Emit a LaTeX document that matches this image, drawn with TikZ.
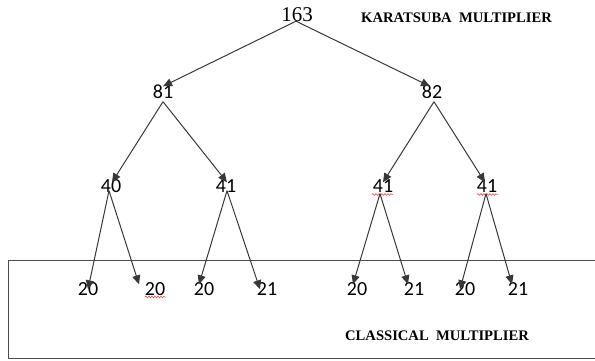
\documentclass[tikz,border=0pt]{standalone}
\usepackage{fontspec}
\setmainfont{Liberation Serif}
\newfontfamily\numfont{Carlito}
\usetikzlibrary{arrows.meta,decorations.pathmorphing}
\tikzset{
  num/.style={inner sep=0pt,font=\numfont\fontsize{20}{20}\selectfont,text height=13pt,text depth=0pt},
  topnum/.style={inner sep=0pt,font=\fontsize{21}{21}\selectfont,text height=14pt,text depth=0pt},
  lbl/.style={inner sep=0pt,anchor=west,font=\bfseries\fontsize{14.6}{14.6}\selectfont},
  arr/.style={draw=black!78,line width=1pt,-{Triangle[length=9pt,width=8pt]}},
  squig/.style={draw=red!80,line width=0.5pt,decorate,decoration={snake,amplitude=0.9pt,segment length=3pt}},
  frame/.style={draw=black!70,line width=1pt}
}
\begin{document}
\begin{tikzpicture}[x=1pt,y=-1pt]
\useasboundingbox (0,0) rectangle (595,361);
% frame of the classical part
\draw[frame] (596,260) -- (8,260) -- (8,358.5) -- (596,358.5);
% nodes
\node[topnum] (r) at (297,15) {163};
\node[lbl] (kl) at (361,18) {KARATSUBA\hspace{0.5em}MULTIPLIER};
\node[num] (a1) at (163,92) {81};
\node[num] (a2) at (432,92) {82};
\node[num] (c1) at (111,186) {40};
\node[num] (c2) at (226,186) {41};
\node[num] (c3) at (383,186) {41};
\node[num] (c4) at (487,186) {41};
\node[num] (b1) at (88,289) {20};
\node[num] (b2) at (155,289) {20};
\node[num] (b3) at (204,289) {20};
\node[num] (b4) at (267,289) {21};
\node[num] (b5) at (357,289) {20};
\node[num] (b6) at (414,289) {21};
\node[num] (b7) at (465,289) {20};
\node[num] (b8) at (518,289) {21};
\node[lbl] (cl) at (345,336) {CLASSICAL\hspace{0.5em}MULTIPLIER};
% spell-check marks
\draw[squig] (145,297) -- (166,297);
\draw[squig] (372,194.5) -- (393,194.5);
\draw[squig] (477,194.5) -- (498,194.5);
% connectors
\draw[arr] ([xshift=-1pt,yshift=1pt]r.south) -- ([yshift=-1pt]a1.north);
\draw[arr] ([xshift=-1pt,yshift=1pt]r.south) -- ([xshift=-2pt,yshift=-1pt]a2.north);
\draw[arr] ([yshift=-3pt]a1.south) -- ([xshift=1pt,yshift=-3pt]c1.north);
\draw[arr] ([yshift=-3pt]a1.south) -- ([xshift=1pt,yshift=-3pt]c2.north);
\draw[arr] ([xshift=2pt,yshift=-3pt]a2.south) -- ([yshift=-3pt]c3.north);
\draw[arr] ([xshift=2pt,yshift=-3pt]a2.south) -- ([xshift=-2pt,yshift=-3pt]c4.north);
\draw[arr] ([xshift=-2pt,yshift=2pt]c1.south) -- ([yshift=-7pt]b1.north);
\draw[arr] ([xshift=-2pt,yshift=2pt]c1.south) -- ([xshift=-16pt,yshift=-2pt]b2.north);
\draw[arr] ([xshift=1pt,yshift=2pt]c2.south) -- ([xshift=-5pt,yshift=-2pt]b3.north);
\draw[arr] ([xshift=1pt,yshift=2pt]c2.south) -- ([xshift=-7pt,yshift=-7pt]b4.north);
\draw[arr] ([xshift=-3pt,yshift=-1pt]c3.south) -- ([xshift=-4pt,yshift=-2pt]b5.north);
\draw[arr] ([xshift=-3pt,yshift=-1pt]c3.south) -- ([xshift=-6pt,yshift=-2pt]b6.north);
\draw[arr] ([xshift=-1pt,yshift=-1pt]c4.south) -- ([xshift=-5pt,yshift=-7pt]b7.north);
\draw[arr] ([xshift=-1pt,yshift=-1pt]c4.south) -- ([xshift=-6pt,yshift=-2pt]b8.north);
\end{tikzpicture}
\end{document}
